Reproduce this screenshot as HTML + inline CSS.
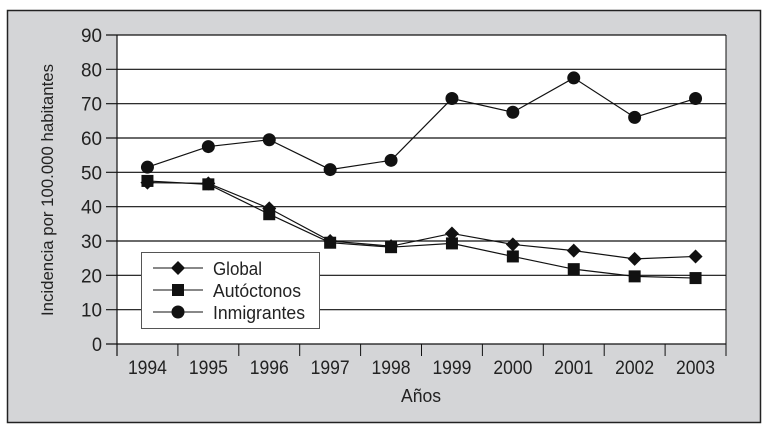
<!DOCTYPE html>
<html><head><meta charset="utf-8"><style>
body{margin:0;background:#fff;width:768px;height:427px;overflow:hidden}
svg{display:block;font-family:"Liberation Sans",sans-serif}
</style></head><body>
<svg id="c" width="768" height="427">
<rect x="7.5" y="10.5" width="753" height="412" fill="#d4d5d7" stroke="#222" stroke-width="1.5"/>
<rect x="117" y="35" width="609" height="309" fill="#fff"/>
<g id="grid"></g><g id="series"></g>
<text x="0" y="0" transform="translate(53,190) rotate(-90)" text-anchor="middle" font-size="17" textLength="252" lengthAdjust="spacingAndGlyphs" fill="#222">Incidencia por 100.000 habitantes</text>
<text x="421" y="402" text-anchor="middle" font-size="18" textLength="40" lengthAdjust="spacingAndGlyphs" fill="#222">Años</text>
<g>
<rect x="141.5" y="252.5" width="178" height="76" fill="#fff" stroke="#555" stroke-width="1"/>
<line x1="153" y1="268" x2="203" y2="268" stroke="#111"/><path d="M178 261 L185 268 L178 275 L171 268Z" fill="#111"/>
<text x="213" y="275" font-size="18" textLength="49" lengthAdjust="spacingAndGlyphs" fill="#222">Global</text>
<line x1="153" y1="290" x2="203" y2="290" stroke="#111"/><rect x="172" y="284" width="12" height="12" fill="#111"/>
<text x="213" y="297" font-size="18" textLength="88" lengthAdjust="spacingAndGlyphs" fill="#222">Autóctonos</text>
<line x1="153" y1="312" x2="203" y2="312" stroke="#111"/><circle cx="178" cy="312" r="6.5" fill="#111"/>
<text x="213" y="319" font-size="18" textLength="92" lengthAdjust="spacingAndGlyphs" fill="#222">Inmigrantes</text>
</g>
</svg>
<script>
const years=["1994","1995","1996","1997","1998","1999","2000","2001","2002","2003"];
const yTicks=[0,10,20,30,40,50,60,70,80,90];
const globalVals=[47,46.8,39.5,30,28.5,32.2,29,27.2,24.8,25.5];
const autoctonosVals=[47.5,46.5,37.8,29.5,28.2,29.3,25.5,21.8,19.7,19.2];
const inmigrantesVals=[51.5,57.5,59.5,50.8,53.5,71.5,67.5,77.5,66,71.5];
const NS="http://www.w3.org/2000/svg";
const X0=117,X1=726,Y0=344,Y1=35;
const bw=(X1-X0)/years.length;
const xs=i=>X0+bw*(i+0.5);
const ys=v=>Y0-(v/90)*(Y0-Y1);
function mk(tag,attrs,parent){const e=document.createElementNS(NS,tag);for(const k in attrs)e.setAttribute(k,attrs[k]);parent.appendChild(e);return e;}
const g=document.getElementById('grid'),s=document.getElementById('series');
yTicks.forEach(t=>{const y=ys(t);
 const l=mk('line',{x1:106,x2:X1,y1:y,y2:y,stroke:'#111','stroke-width':1.2},g);
 
 
 const tx=mk('text',{x:102,y:y+7,'text-anchor':'end','font-size':19,textLength:(t<10?10:21),lengthAdjust:'spacingAndGlyphs',fill:'#222'},g);tx.textContent=t;
 
 
});
mk('line',{x1:X0,x2:X0,y1:Y1,y2:Y0+12,stroke:'#111','stroke-width':1.2},g);
mk('line',{x1:X1,x2:X1,y1:Y1,y2:Y0+12,stroke:'#111','stroke-width':1},g);
for(let i=1;i<years.length;i++)mk('line',{x1:X0+bw*i,x2:X0+bw*i,y1:Y0,y2:Y0+12,stroke:'#111'},g);
years.forEach((yr,i)=>{const t=mk('text',{x:xs(i),y:374,'text-anchor':'middle','font-size':19,textLength:39,lengthAdjust:'spacingAndGlyphs',fill:'#222'},g);t.textContent=yr;
 
 });
function series(vals,shape,name){
 const p=mk('polyline',{points:vals.map((v,i)=>xs(i)+','+ys(v)).join(' '),fill:'none',stroke:'#111','stroke-width':1.2},s);
 
 
 vals.forEach((v,i)=>{const x=xs(i),y=ys(v);let m;
  if(shape==='d')m=mk('path',{d:`M${x} ${y-7}L${x+7} ${y}L${x} ${y+7}L${x-7} ${y}Z`,fill:'#111'},s);
  else if(shape==='s')m=mk('rect',{x:x-6,y:y-6,width:12,height:12,fill:'#111'},s);
  else m=mk('circle',{cx:x,cy:y,r:6.5,fill:'#111'},s);
  
  });
}
series(inmigrantesVals,'c','inmigrantes');
series(autoctonosVals,'s','autoctonos');
series(globalVals,'d','global');
</script>
</body></html>
